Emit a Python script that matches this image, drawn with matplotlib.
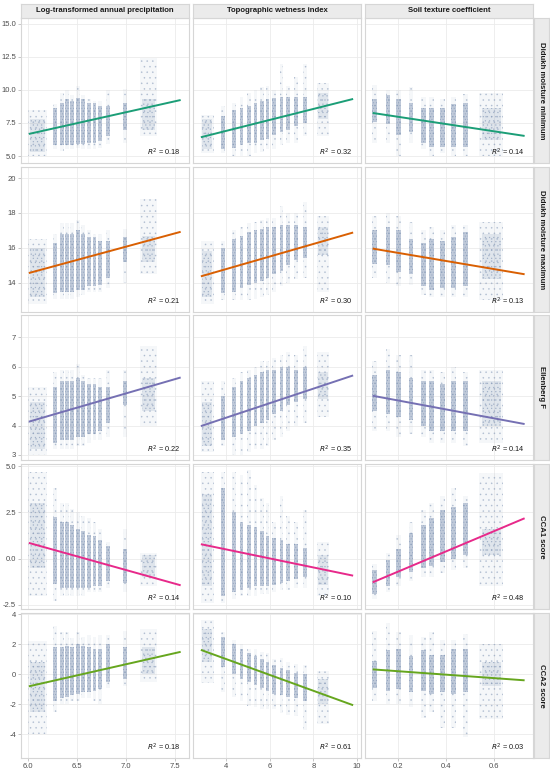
import matplotlib
matplotlib.use("Agg")
import matplotlib.pyplot as plt
from matplotlib.colors import to_rgba

plt.rcParams['font.family'] = ['Liberation Sans', 'DejaVu Sans']
plt.rcParams['axes.unicode_minus'] = False
plt.rcParams['hatch.linewidth'] = 0.4

col_titles = ["Log-transformed annual precipitation", "Topographic wetness index", "Soil texture coefficient"]
row_titles = ["Didukh moisture minimum", "Didukh moisture maximum", "Ellenberg F", "CCA1 score", "CCA2 score"]

# x position of each column of plots (jittered strips), per predictor
precip_x = [6.10, 6.28, 6.35, 6.40, 6.45, 6.51, 6.56, 6.62, 6.68, 6.74, 6.82, 6.99, 7.23]
twi_x = [3.15, 3.88, 4.37, 4.71, 5.05, 5.35, 5.63, 5.90, 6.21, 6.54, 6.85, 7.20, 7.61, 8.45]
soil_x = [0.103, 0.159, 0.204, 0.255, 0.307, 0.342, 0.388, 0.433, 0.482, 0.59]

# per strip: (dense low, dense high, sparse low, sparse high)
min_precip = [(5.3, 7.8, 5.0, 8.5), (5.8, 8.6, 5.5, 8.9), (5.8, 9.0, 5.4, 9.8), (5.8, 9.3, 5.5, 10.0),
              (5.8, 9.2, 5.5, 9.6), (5.9, 9.4, 5.6, 10.3), (5.9, 9.3, 5.5, 9.6), (6.0, 9.0, 5.5, 9.3),
              (6.0, 9.0, 5.5, 9.2), (6.1, 8.8, 5.6, 9.2), (6.5, 8.8, 5.9, 10.0), (7.0, 9.0, 6.0, 10.1),
              (7.0, 9.3, 6.5, 12.4)]
min_twi = [(5.5, 7.8, 5.2, 8.1), (5.5, 8.0, 5.2, 8.8), (5.6, 8.5, 5.0, 9.0), (5.8, 8.6, 5.0, 9.5),
           (6.0, 8.8, 5.0, 9.8), (6.0, 9.0, 5.2, 10.0), (6.2, 9.2, 5.3, 10.2), (6.3, 9.3, 5.5, 10.3),
           (6.6, 9.4, 5.5, 10.0), (6.8, 9.5, 5.8, 12.0), (7.0, 9.5, 6.0, 10.3), (7.3, 9.5, 6.0, 11.0),
           (7.5, 9.5, 6.5, 12.0), (7.8, 9.8, 6.5, 10.5)]
min_soil = [(7.6, 9.3, 6.0, 10.4), (7.4, 9.6, 6.0, 10.0), (6.6, 9.3, 5.0, 10.0), (6.8, 9.0, 6.0, 10.2),
            (6.0, 8.6, 5.5, 9.5), (5.7, 8.6, 5.0, 9.5), (5.7, 8.6, 5.2, 9.3), (5.7, 8.9, 5.0, 9.5),
            (5.7, 9.0, 5.0, 9.7), (6.2, 8.6, 5.0, 9.8)]

max_precip = [(13.2, 16.0, 12.8, 16.5), (13.4, 16.3, 13.1, 16.8), (13.5, 16.8, 13.1, 17.4), (13.5, 16.8, 13.1, 17.4),
              (13.5, 16.8, 13.1, 17.4), (13.6, 17.0, 13.2, 17.6), (13.6, 16.8, 13.3, 17.3), (13.8, 16.6, 13.5, 17.0),
              (13.8, 16.6, 13.5, 16.8), (13.9, 16.4, 13.5, 16.8), (14.3, 16.4, 13.7, 17.0), (15.2, 16.6, 14.0, 17.1),
              (15.2, 16.7, 14.5, 18.8)]
max_twi = [(13.2, 15.8, 12.8, 16.4), (13.4, 16.0, 13.0, 16.4), (13.5, 16.5, 13.0, 17.0), (13.7, 16.7, 13.0, 17.2),
           (13.9, 16.9, 13.0, 17.4), (14.0, 17.0, 13.1, 17.5), (14.1, 17.1, 13.2, 17.6), (14.3, 17.2, 13.3, 17.7),
           (14.5, 17.2, 13.5, 17.7), (14.7, 17.3, 13.8, 18.4), (15.0, 17.3, 14.0, 18.0), (15.3, 17.3, 14.2, 18.0),
           (15.4, 17.2, 14.3, 18.6), (15.6, 17.2, 13.5, 17.8)]
max_soil = [(15.1, 17.0, 14.3, 17.8), (15.0, 17.2, 14.0, 18.0), (14.6, 17.0, 13.8, 17.8), (14.5, 16.5, 13.9, 17.5),
            (13.8, 16.3, 13.3, 17.0), (13.6, 16.5, 13.2, 17.2), (13.7, 16.4, 13.2, 17.0), (13.7, 16.6, 13.2, 17.3),
            (13.8, 16.9, 13.2, 17.3), (14.2, 16.8, 13.0, 17.5)]

ell_precip = [(3.2, 4.8, 3.0, 5.3), (3.4, 5.3, 3.2, 5.8), (3.5, 5.5, 3.2, 5.9), (3.5, 5.5, 3.2, 5.9),
              (3.5, 5.5, 3.2, 5.9), (3.6, 5.6, 3.3, 6.1), (3.6, 5.5, 3.3, 5.7), (3.7, 5.4, 3.4, 5.6),
              (3.7, 5.4, 3.5, 5.6), (3.8, 5.3, 3.5, 5.6), (4.1, 5.3, 3.6, 5.9), (4.7, 5.5, 3.6, 5.9),
              (4.5, 5.6, 4.0, 6.7)]
ell_twi = [(3.3, 4.8, 3.1, 5.5), (3.5, 5.0, 3.3, 5.5), (3.6, 5.3, 3.0, 5.6), (3.7, 5.5, 3.0, 5.8),
           (3.8, 5.6, 3.1, 5.9), (4.0, 5.7, 3.2, 6.0), (4.1, 5.8, 3.2, 6.2), (4.2, 5.9, 3.3, 6.2),
           (4.4, 5.9, 3.5, 6.3), (4.5, 6.0, 3.6, 6.4), (4.7, 6.0, 3.8, 6.5), (4.8, 5.9, 4.0, 6.4),
           (4.9, 6.0, 4.1, 6.7), (4.9, 5.8, 4.3, 6.5)]
ell_soil = [(4.5, 5.7, 3.8, 6.2), (4.4, 5.9, 3.8, 6.6), (4.3, 5.8, 3.6, 6.4), (4.2, 5.6, 3.7, 6.4),
            (4.0, 5.5, 3.6, 5.9), (3.8, 5.5, 3.4, 5.9), (3.8, 5.4, 3.4, 5.8), (3.8, 5.5, 3.4, 6.0),
            (3.8, 5.5, 3.3, 5.8), (4.0, 5.5, 3.4, 5.9)]

cca1_precip = [(-0.5, 3.0, -2.0, 4.7), (-1.35, 2.25, -2.3, 3.8), (-1.6, 2.0, -2.0, 3.0), (-1.6, 2.0, -2.0, 3.0),
               (-1.6, 1.8, -2.0, 2.7), (-1.6, 1.6, -2.0, 2.5), (-1.6, 1.5, -2.0, 2.3), (-1.6, 1.3, -1.8, 2.2),
               (-1.5, 1.2, -1.8, 2.0), (-1.5, 1.0, -1.8, 1.6), (-1.2, 0.7, -1.6, 0.9), (-1.3, 0.5, -1.8, 1.6),
               (-1.0, 0.2, -1.5, 0.3)]
cca1_twi = [(-1.5, 3.5, -2.4, 4.7), (-2.0, 3.8, -2.4, 4.7), (-1.8, 2.5, -2.2, 4.7), (-1.7, 2.0, -2.0, 4.5),
            (-1.6, 1.8, -2.0, 4.8), (-1.5, 1.7, -2.0, 4.0), (-1.5, 1.5, -1.9, 3.3), (-1.5, 1.2, -1.9, 3.0),
            (-1.4, 1.1, -1.8, 2.0), (-1.3, 1.0, -1.7, 3.4), (-1.2, 0.8, -1.7, 2.3), (-1.1, 0.8, -1.6, 2.0),
            (-1.0, 0.6, -1.6, 2.6), (-1.4, 0.2, -2.0, 0.9)]
cca1_soil = [(-1.9, -0.6, -2.2, -0.3), (-1.5, -0.1, -1.8, 0.3), (-1.0, 0.5, -1.5, 1.3), (-0.7, 1.4, -1.2, 2.0),
             (-0.5, 1.8, -1.0, 2.6), (-0.4, 2.2, -1.0, 3.0), (-0.2, 2.6, -0.8, 3.4), (0.0, 2.8, -0.6, 3.8),
             (0.2, 3.0, -0.5, 3.4), (0.2, 1.6, -1.5, 4.6)]

cca2_precip = [(-2.5, 0.8, -4.0, 2.2), (-1.8, 1.8, -2.5, 3.2), (-1.6, 1.8, -2.0, 2.8), (-1.5, 1.9, -2.0, 2.8),
               (-1.4, 1.8, -1.8, 2.4), (-1.3, 2.0, -1.8, 2.8), (-1.2, 1.9, -1.6, 2.5), (-1.2, 1.8, -1.6, 2.6),
               (-1.1, 1.7, -1.8, 2.5), (-1.0, 1.7, -2.0, 2.6), (-0.5, 2.0, -0.9, 2.6), (-0.3, 1.8, -0.8, 2.9),
               (0.0, 1.8, -0.5, 3.0)]
cca2_twi = [(0.8, 3.0, -0.6, 3.6), (0.5, 2.5, -1.2, 2.8), (0.0, 2.0, -1.5, 2.3), (-0.3, 1.7, -1.8, 2.0),
            (-0.5, 1.4, -2.1, 1.7), (-0.7, 1.2, -2.2, 1.7), (-0.9, 1.0, -2.3, 1.5), (-1.1, 0.8, -2.3, 1.4),
            (-1.3, 0.6, -2.3, 1.0), (-1.4, 0.4, -2.6, 1.1), (-1.5, 0.3, -2.7, 0.8), (-1.6, 0.1, -2.8, 0.7),
            (-1.8, 0.0, -3.7, 0.6), (-2.0, -0.3, -3.3, 0.2)]
cca2_soil = [(-0.9, 0.9, -1.8, 2.9), (-1.1, 1.6, -2.0, 3.4), (-1.0, 1.7, -2.0, 2.8), (-1.2, 1.2, -2.2, 2.6),
             (-1.1, 1.6, -2.9, 2.5), (-1.3, 1.3, -2.5, 2.8), (-1.2, 1.3, -3.6, 2.3), (-1.3, 1.7, -3.6, 2.3),
             (-1.2, 1.7, -4.2, 2.7), (-0.8, 0.8, -3.0, 2.0)]

# fitted line: value at the lowest and highest x of the data
fit_x = [(6.01, 7.56), (2.85, 9.82), (0.095, 0.73)]
fit_ends = [[(6.67, 9.24), (6.42, 9.32), (8.26, 6.52)],
            [(14.56, 16.92), (14.37, 16.88), (15.96, 14.49)],
            [(4.13, 5.63), (3.98, 5.70), (5.01, 4.05)],
            [(0.85, -1.44), (0.78, -0.92), (-1.28, 2.18)],
            [(-0.82, 1.48), (1.61, -2.08), (0.31, -0.42)]]
r2 = [[0.18, 0.32, 0.14], [0.21, 0.30, 0.13], [0.22, 0.35, 0.14], [0.14, 0.10, 0.48], [0.18, 0.61, 0.03]]

x_limits = [(5.93, 7.645), (2.49, 10.18), (0.063, 0.765)]
x_ticks = [[6.0, 6.5, 7.0, 7.5], [4, 6, 8, 10], [0.2, 0.4, 0.6]]
x_ticklabels = [["6.0", "6.5", "7.0", "7.5"], ["4", "6", "8", "10"], ["0.2", "0.4", "0.6"]]
y_limits = [(4.47, 15.45), (12.33, 20.63), (2.83, 7.75), (-2.72, 5.11), (-5.6, 4.07)]
y_ticks = [[5.0, 7.5, 10.0, 12.5, 15.0], [14, 16, 18, 20], [3, 4, 5, 6, 7], [-2.5, 0.0, 2.5, 5.0], [-4, -2, 0, 2, 4]]
y_ticklabels = [["5.0", "7.5", "10.0", "12.5", "15.0"], ["14", "16", "18", "20"], ["3", "4", "5", "6", "7"],
                ["-2.5", "0.0", "2.5", "5.0"], ["-4", "-2", "0", "2", "4"]]

strips = [[min_precip, min_twi, min_soil],
          [max_precip, max_twi, max_soil],
          [ell_precip, ell_twi, ell_soil],
          [cca1_precip, cca1_twi, cca1_soil],
          [cca2_precip, cca2_twi, cca2_soil]]
xs = [precip_x, twi_x, soil_x]

# style
line_colors = ["#1B9E77", "#D95F02", "#7570B3", "#E7298A", "#66A61E"]
point_color = "#8a9dba"
strip_w = [0.04, 0.18, 0.02]
cloud_w = [{0: 0.2, 12: 0.17}, {0: 0.58, 13: 0.55}, {9: 0.1}]

W, H = 550, 771
col_left = [21, 193, 365]
row_top = [18, 167, 315, 464, 613]
pw, ph = 168, 145

fig = plt.figure(figsize=(5.5, 7.71), dpi=100)
fig.patch.set_facecolor("white")


def px_box(left, top, w, h):
    return [left / W, 1 - (top + h) / H, w / W, h / H]


for r in range(5):
    for c in range(3):
        ax = fig.add_axes(px_box(col_left[c], row_top[r], pw, ph))
        ax.set_facecolor("white")
        for s in ax.spines.values():
            s.set_color("#d6d6d6")
            s.set_linewidth(0.8)
        ax.grid(True, color="#ebebeb", linewidth=0.6)
        ax.set_axisbelow(True)

        for i, (x, g) in enumerate(zip(xs[c], strips[r][c])):
            w = cloud_w[c].get(i, strip_w[c])
            cloud = i in cloud_w[c]
            # sparse tail of the strip
            ax.bar(x, g[3] - g[2], bottom=g[2], width=w, facecolor=to_rgba(point_color, 0.08),
                   edgecolor=to_rgba(point_color, 0.5), hatch="...", linewidth=0)
            # dense body of the strip
            ax.bar(x, g[1] - g[0], bottom=g[0], width=w * (0.8 if cloud else 1.0),
                   facecolor=to_rgba(point_color, 0.2 if cloud else 0.5),
                   edgecolor=to_rgba(point_color, 0.6 if cloud else 0.75),
                   hatch="...." if cloud else "......", linewidth=0)

        y0, y1 = fit_ends[r][c]
        ax.plot(fit_x[c], [y0, y1], color=line_colors[r], linewidth=1.4, solid_capstyle="butt", zorder=5)

        ax.text(0.95, 0.035, r"$\mathit{R}^2$ = %.2f" % r2[r][c], transform=ax.transAxes,
                ha="right", va="bottom", fontsize=5.3, color="#1a1a1a", zorder=6)

        ax.set_xlim(x_limits[c])
        ax.set_ylim(y_limits[r])
        ax.set_xticks(x_ticks[c])
        ax.set_yticks(y_ticks[r])
        ax.tick_params(length=2, width=0.5, color="#b0b0b0", labelsize=5.5, labelcolor="#4d4d4d", pad=1.5)
        if r == 4:
            ax.set_xticklabels(x_ticklabels[c])
        else:
            ax.set_xticklabels([])
            ax.tick_params(axis="x", length=0)
        if c == 0:
            ax.set_yticklabels(y_ticklabels[r])
        else:
            ax.set_yticklabels([])
            ax.tick_params(axis="y", length=0)

# column strips
for c in range(3):
    sax = fig.add_axes(px_box(col_left[c], 4, pw, 14))
    sax.set_facecolor("#ebebeb")
    sax.set_xticks([])
    sax.set_yticks([])
    for s in sax.spines.values():
        s.set_color("#d6d6d6")
        s.set_linewidth(0.8)
    sax.text(0.5, 0.5, col_titles[c], ha="center", va="center", fontsize=5.6,
             fontweight="bold", color="#1a1a1a", transform=sax.transAxes)

# row strips
for r in range(5):
    sax = fig.add_axes(px_box(534, row_top[r], 15, ph))
    sax.set_facecolor("#ebebeb")
    sax.set_xticks([])
    sax.set_yticks([])
    for s in sax.spines.values():
        s.set_color("#d6d6d6")
        s.set_linewidth(0.8)
    sax.text(0.5, 0.5, row_titles[r], ha="center", va="center", fontsize=5.6, rotation=-90,
             fontweight="bold", color="#1a1a1a", transform=sax.transAxes)

fig.savefig("out.png", dpi=100)
